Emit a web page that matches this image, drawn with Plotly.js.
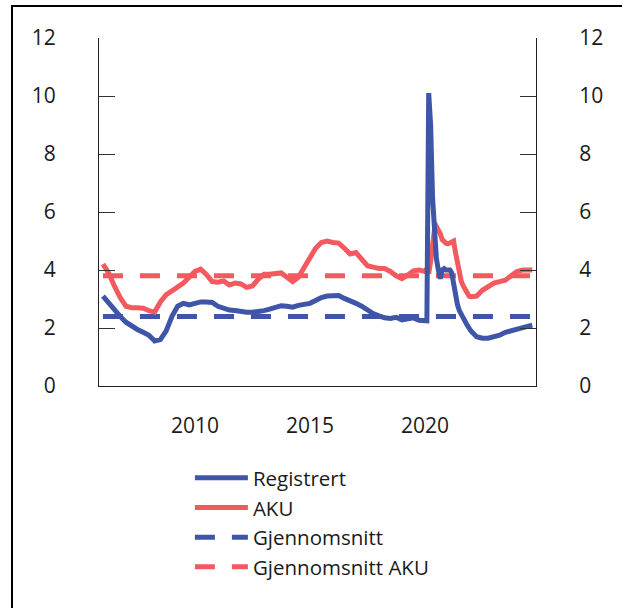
<!DOCTYPE html>
<html>
<head>
<meta charset="utf-8">
<script src="https://cdn.plot.ly/plotly-3.0.1.min.js"></script>
<style>
  html, body { margin: 0; padding: 0; background: #fff; }
  #wrap { position: relative; width: 622px; height: 608px; }
  #chart { width: 622px; height: 608px; }
  #frame { position: absolute; left: 11px; top: 5px; right: 0; bottom: 0;
           border-left: 2px solid #000; border-top: 2px solid #000; pointer-events: none; }
</style>
</head>
<body>
<div id="wrap"><div id="chart"></div><div id="frame"></div></div>
<script>
// Registrert arbeidsledighet (prosent)
const regDates = [
 '2006-01-01','2006-04-01','2006-07-01','2006-10-01',
 '2007-01-01','2007-04-01','2007-07-01','2007-10-01',
 '2008-01-01','2008-04-01','2008-07-01','2008-10-01',
 '2009-01-01','2009-04-01','2009-07-01','2009-10-01',
 '2010-01-01','2010-04-01','2010-07-01','2010-10-01',
 '2011-01-01','2011-04-01','2011-07-01','2011-10-01',
 '2012-01-01','2012-04-01','2012-07-01','2012-10-01',
 '2013-01-01','2013-04-01','2013-07-01','2013-10-01',
 '2014-01-01','2014-04-01','2014-07-01','2014-10-01',
 '2015-01-01','2015-04-01','2015-07-01','2015-10-01',
 '2016-01-01','2016-04-01','2016-07-01','2016-10-01',
 '2017-01-01','2017-04-01','2017-07-01','2017-10-01',
 '2018-01-01','2018-04-01','2018-07-01','2018-10-01',
 '2019-01-01','2019-04-01','2019-07-01','2019-10-01',
 '2020-01-01','2020-02-01','2020-03-01','2020-04-01','2020-05-01','2020-06-01',
 '2020-07-01','2020-08-01','2020-09-01','2020-10-01','2020-11-01','2020-12-01',
 '2021-01-01','2021-02-01','2021-03-01','2021-04-01','2021-05-01','2021-06-01',
 '2021-07-01','2021-08-01','2021-09-01','2021-10-01','2021-11-01','2021-12-01',
 '2022-01-01','2022-04-01','2022-07-01','2022-10-01',
 '2023-01-01','2023-04-01','2023-07-01','2023-10-01',
 '2024-01-01','2024-04-01','2024-07-01','2024-09-01'
];
const regValues = [
 3.10, 2.85, 2.62, 2.40,
 2.20, 2.05, 1.95, 1.85,
 1.75, 1.55, 1.60, 1.90,
 2.40, 2.75, 2.85, 2.80,
 2.85, 2.90, 2.90, 2.88,
 2.75, 2.68, 2.62, 2.60,
 2.55, 2.54, 2.54, 2.55,
 2.60, 2.65, 2.70, 2.77,
 2.75, 2.72, 2.78, 2.82,
 2.85, 2.95, 3.05, 3.10,
 3.12, 3.12, 3.02, 2.95,
 2.85, 2.75, 2.60, 2.50,
 2.42, 2.35, 2.33, 2.37,
 2.28, 2.33, 2.35, 2.27,
 2.25, 2.25, 10.10, 9.00, 6.50, 5.00,
 4.40, 4.00, 3.70, 4.00, 4.05, 4.00,
 4.00, 4.00, 3.90, 3.50, 3.10, 2.80,
 2.60, 2.45, 2.35, 2.25, 2.10, 2.00,
 1.90, 1.70, 1.65, 1.65,
 1.70, 1.75, 1.85, 1.90,
 1.95, 2.00, 2.05, 2.10
];

// AKU-ledighet (prosent)
const akuDates = [
 '2006-01-01','2006-04-01','2006-07-01','2006-10-01',
 '2007-01-01','2007-04-01','2007-07-01','2007-10-01',
 '2008-01-01','2008-04-01','2008-07-01','2008-10-01',
 '2009-01-01','2009-04-01','2009-07-01','2009-10-01',
 '2010-01-01','2010-04-01','2010-07-01','2010-10-01',
 '2011-01-01','2011-04-01','2011-07-01','2011-10-01',
 '2012-01-01','2012-04-01','2012-07-01','2012-10-01',
 '2013-01-01','2013-04-01','2013-07-01','2013-10-01',
 '2014-01-01','2014-04-01','2014-07-01','2014-10-01',
 '2015-01-01','2015-04-01','2015-07-01','2015-10-01',
 '2016-01-01','2016-04-01','2016-07-01','2016-10-01',
 '2017-01-01','2017-04-01','2017-07-01','2017-10-01',
 '2018-01-01','2018-04-01','2018-07-01','2018-10-01',
 '2019-01-01','2019-04-01','2019-07-01','2019-10-01',
 '2020-01-01','2020-02-01','2020-03-01','2020-04-01','2020-05-01','2020-06-01',
 '2020-07-01','2020-08-01','2020-09-01','2020-10-01','2020-11-01','2020-12-01',
 '2021-01-01','2021-02-01','2021-03-01','2021-04-01','2021-05-01','2021-06-01',
 '2021-07-01','2021-08-01','2021-09-01','2021-10-01','2021-11-01','2021-12-01',
 '2022-01-01','2022-04-01','2022-07-01','2022-10-01',
 '2023-01-01','2023-04-01','2023-07-01','2023-10-01',
 '2024-01-01','2024-04-01','2024-07-01','2024-09-01'
];
const akuValues = [
 4.20, 3.90, 3.45, 3.05,
 2.75, 2.70, 2.70, 2.68,
 2.60, 2.55, 2.90, 3.15,
 3.28, 3.40, 3.55, 3.75,
 3.95, 4.03, 3.85, 3.60,
 3.58, 3.62, 3.48, 3.55,
 3.52, 3.40, 3.45, 3.68,
 3.85, 3.85, 3.88, 3.90,
 3.75, 3.60, 3.75, 4.10,
 4.40, 4.75, 4.95, 5.00,
 4.95, 4.93, 4.75, 4.55,
 4.60, 4.38, 4.15, 4.10,
 4.05, 4.05, 3.95, 3.80,
 3.70, 3.82, 3.97, 4.00,
 3.95, 4.05, 3.88, 4.30, 4.90, 5.40,
 5.50, 5.40, 5.25, 5.05, 4.95, 4.92,
 4.90, 4.95, 5.00, 5.00, 4.60, 4.20,
 3.85, 3.60, 3.45, 3.30, 3.20, 3.10,
 3.08, 3.10, 3.30, 3.45,
 3.55, 3.60, 3.65, 3.80,
 3.95, 4.00, 4.00, 4.00
];

// Gjennomsnitt over perioden
const avgDates = ['2006-01-01', '2024-09-01'];
const avgReg = [2.4, 2.4];
const avgAku = [3.8, 3.8];

const seriesNames = ['Registrert', 'AKU', 'Gjennomsnitt', 'Gjennomsnitt AKU'];
const yTicks = [0, 2, 4, 6, 8, 10, 12];
const xTickVals = ['2010-01-01', '2015-01-01', '2020-01-01'];
const xTickText = ['2010', '2015', '2020'];

const BLUE = '#3F55A7';
const RED = '#F25A60';
const FONT = 'Open Sans, Noto Sans, sans-serif';

const traces = [
  { x: avgDates, y: avgReg, name: seriesNames[2], type: 'scatter', mode: 'lines',
    line: { color: BLUE, width: 5, dash: '20px,17px' }, legendrank: 3 },
  { x: avgDates, y: avgAku, name: seriesNames[3], type: 'scatter', mode: 'lines',
    line: { color: RED, width: 5, dash: '20px,17px' }, legendrank: 4 },
  { x: akuDates, y: akuValues, name: seriesNames[1], type: 'scatter', mode: 'lines',
    line: { color: RED, width: 5 }, legendrank: 2 },
  { x: regDates, y: regValues, name: seriesNames[0], type: 'scatter', mode: 'lines',
    line: { color: BLUE, width: 5 }, legendrank: 1 },
  { x: avgDates, y: avgReg, yaxis: 'y2', type: 'scatter', mode: 'lines',
    line: { color: 'rgba(0,0,0,0)', width: 0 }, showlegend: false, hoverinfo: 'skip' }
];

const yCommon = {
  range: [0, 12], tickvals: yTicks, ticks: 'inside', ticklen: 16, tickwidth: 1,
  tickcolor: '#333', showline: true, linecolor: '#222', linewidth: 1,
  showgrid: false, zeroline: false, ticklabelstandoff: 38,
  tickfont: { family: FONT, size: 21, color: '#1a1a1a' }, fixedrange: true
};

const layout = {
  width: 622, height: 608,
  margin: { l: 99, r: 86, t: 38, b: 222 },
  paper_bgcolor: '#fff', plot_bgcolor: '#fff',
  font: { family: FONT, size: 21, color: '#1a1a1a' },
  showlegend: true,
  xaxis: {
    type: 'date', range: ['2005-10-30', '2024-10-30'],
    tickvals: xTickVals, ticktext: xTickText, ticks: '',
    showline: true, linecolor: '#222', linewidth: 1, showgrid: false, zeroline: false,
    ticklabelstandoff: 21,
    tickfont: { family: FONT, size: 21, color: '#1a1a1a' }, fixedrange: true
  },
  yaxis: Object.assign({}, yCommon, { side: 'left' }),
  yaxis2: Object.assign({}, yCommon, { side: 'right', overlaying: 'y', anchor: 'x' }),
  legend: {
    x: 0.208, xanchor: 'left', y: -0.207, yanchor: 'top',
    orientation: 'v', traceorder: 'normal',
    itemwidth: 53, bgcolor: 'rgba(0,0,0,0)',
    font: { family: FONT, size: 20.5, color: '#1a1a1a' }
  }
};

Plotly.newPlot('chart', traces, layout, { displayModeBar: false, staticPlot: true });
</script>
</body>
</html>
